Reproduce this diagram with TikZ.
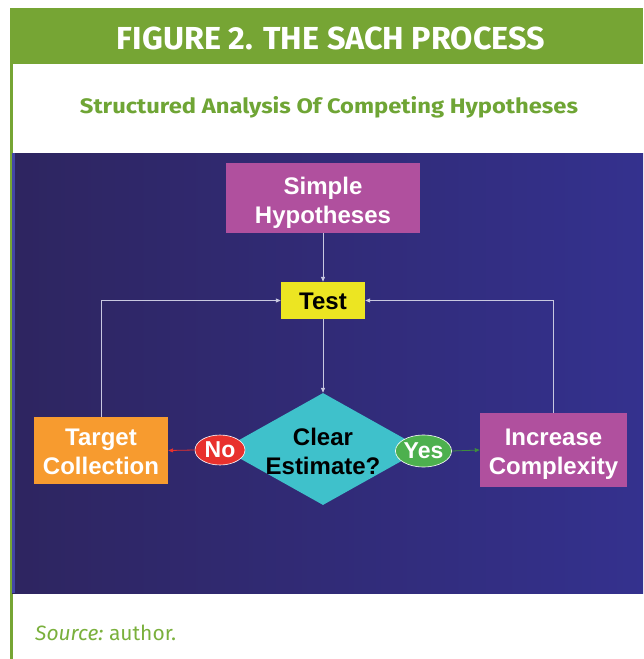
\documentclass[tikz,border=0pt]{standalone}
\usepackage{fontspec}
\setmainfont{Liberation Sans}
\newfontfamily\dinfont{Fira Sans}
\usetikzlibrary{shapes.geometric,arrows.meta}
\definecolor{hdrgreen}{HTML}{76A534}
\definecolor{subgreen}{HTML}{6FA535}
\definecolor{srcgreen}{HTML}{7AB03C}
\definecolor{panelL}{HTML}{2E2560}
\definecolor{panelR}{HTML}{34318E}
\definecolor{panelEdge}{HTML}{4346A6}
\definecolor{magbox}{HTML}{B0509E}
\definecolor{yelbox}{HTML}{ECE522}
\definecolor{orabox}{HTML}{F79B2F}
\definecolor{cyabox}{HTML}{3FC1CB}
\definecolor{redov}{HTML}{E8312D}
\definecolor{greov}{HTML}{4DB04E}
\definecolor{linec}{HTML}{C8C8E0}
\tikzset{
  box/.style={rectangle, inner sep=0pt},
  boxtext/.style={inner sep=0pt, align=center, font=\fontsize{24}{29}\selectfont\bfseries},
  oval/.style={ellipse, inner sep=0pt, draw=white, line width=0.6pt, text=white, font=\fontsize{23}{26}\selectfont\bfseries},
  conn/.style={draw=linec, line width=0.8pt, -{Triangle[length=5pt,width=4pt]}},
}
\begin{document}
\begin{tikzpicture}[x=1pt,y=-1pt]
\useasboundingbox (0,0) rectangle (643,659);
\fill[white] (0,0) rectangle (643,659);
% header
\fill[hdrgreen] (10,8) rectangle (643,64);
\fill[hdrgreen] (10,8) rectangle (13,659);
\node[inner sep=0pt, anchor=base, text=white] (title) at (331,49.3)
  {\resizebox{428pt}{22.6pt}{\dinfont\bfseries FIGURE 2. THE SACH PROCESS}};
\node[inner sep=0pt, anchor=base, text=subgreen] (subtitle) at (329,113.3)
  {\resizebox{498pt}{17pt}{\dinfont\bfseries Structured Analysis Of Competing Hypotheses}};
% panel
\shade[left color=panelL, right color=panelR] (12,153) rectangle (643,593);
\fill[panelEdge] (12,153) rectangle (15,593);
% source
\node[inner sep=0pt, anchor=base west, text=srcgreen] (source) at (35,640.7)
  {\resizebox{141pt}{15.5pt}{\dinfont\itshape Source:\upshape\ author.}};
% boxes
\node[box, fill=magbox, minimum width=194pt, minimum height=70pt] (simple) at (323,198) {};
\node[boxtext, text=white] (simpletext) at (323,203) {Simple\\Hypotheses};
\node[box, fill=yelbox, minimum width=84pt, minimum height=37pt] (test) at (323,300.5) {};
\node[boxtext, text=black] (testtext) at (323,301.5) {Test};
\node[diamond, fill=cyabox, inner sep=0pt, minimum width=200pt, minimum height=112pt] (dia) at (323,449) {};
\node[boxtext, text=black] (diatext) at (323,451) {Clear\\Estimate?};
\node[box, fill=orabox, minimum width=134pt, minimum height=67pt] (target) at (101,450.5) {};
\node[boxtext, text=white] (targettext) at (101,452) {Target\\Collection};
\node[box, fill=magbox, minimum width=147pt, minimum height=74pt] (inc) at (553.5,450) {};
\node[boxtext, text=white] (inctext) at (553.5,454) {Increase\\Complexity};
\node[oval, fill=redov, minimum width=50pt, minimum height=30pt] (no) at (220,450) {No};
\node[oval, fill=greov, minimum width=51pt, minimum height=32pt] (yes) at (423.5,451) {Yes};
% connectors
\draw[conn] (simple.south) -- (test.north);
\draw[conn] (test.south) -- (dia.north);
\draw[conn] (target.north) |- (test.west);
\draw[conn] (inc.north) |- (test.east);
\draw[conn, draw=redov, -{Triangle[length=5pt,width=4pt]}] (no.west) -- (target.east);
\draw[conn, draw=greov!80!black, -{Triangle[length=5pt,width=4pt]}] (yes.east) -- (inc.west);
\end{tikzpicture}
\end{document}
